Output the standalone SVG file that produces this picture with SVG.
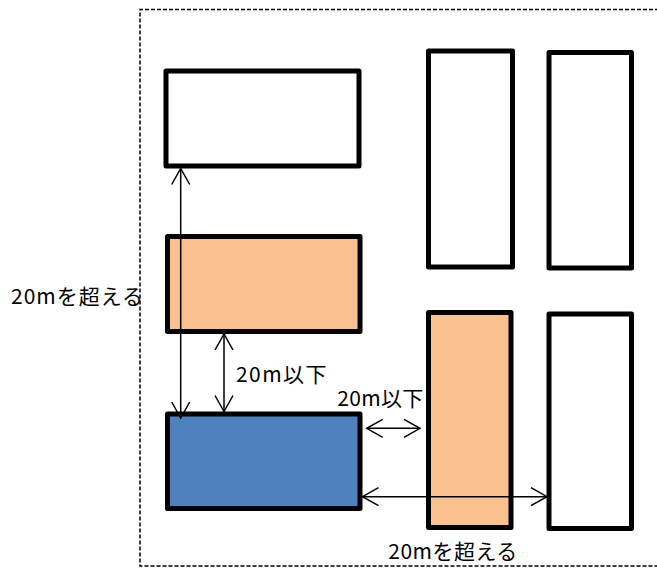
<svg xmlns="http://www.w3.org/2000/svg" width="657" height="568" viewBox="0 0 657 568">
<style>
.box{stroke:#000;stroke-width:5;stroke-linejoin:round}
.white{fill:#fff}
.orange{fill:#FAC090}
.blue{fill:#4F81BD}
.conn{stroke:#000;stroke-width:1.5;fill:none}
.lbl{font-family:"Noto Sans CJK JP","Noto Sans",sans-serif;font-size:21px;fill:#000}
.border{fill:none;stroke:#000;stroke-width:1.5;stroke-dasharray:4,2}
</style>
<defs>
<marker id="ah" markerUnits="userSpaceOnUse" markerWidth="24" markerHeight="24" refX="0" refY="0" viewBox="-20 -12 24 24" orient="auto-start-reverse" overflow="visible">
<path d="M-16,-9 L0,0 L-16,9" fill="none" stroke="#000" stroke-width="1.5"/>
</marker>
</defs>
<rect width="657" height="568" fill="#fff"/>
<path class="border" d="M665,9.5 H140 V566 H665"/>
<g id="node-top-left"><rect class="box white" x="166" y="71" width="193" height="95"/></g>
<g id="node-orange-left"><rect class="box orange" x="167.5" y="236.5" width="192.5" height="95"/></g>
<g id="node-blue"><rect class="box blue" x="167.5" y="414" width="192.5" height="94.5"/></g>
<g id="node-top-mid"><rect class="box white" x="428.5" y="51" width="84" height="216"/></g>
<g id="node-top-right"><rect class="box white" x="549" y="52.5" width="82.5" height="215.5"/></g>
<g id="node-orange-tall"><rect class="box orange" x="428.5" y="312.5" width="82.5" height="215"/></g>
<g id="node-bottom-right"><rect class="box white" x="549" y="314" width="82.5" height="214.5"/></g>
<g id="connectors">
<line class="conn" x1="180.7" y1="168.5" x2="180.7" y2="418" marker-start="url(#ah)" marker-end="url(#ah)"/>
<line class="conn" x1="224" y1="334" x2="224" y2="411.5" marker-start="url(#ah)" marker-end="url(#ah)"/>
<line class="conn" x1="366.7" y1="428.3" x2="420" y2="428.3" marker-start="url(#ah)" marker-end="url(#ah)"/>
<line class="conn" x1="362.5" y1="496.7" x2="547" y2="496.7" marker-start="url(#ah)" marker-end="url(#ah)"/>
</g>
<g id="labels">
<text class="lbl" x="11" y="304" textLength="132">20mを超える</text>
<text class="lbl" x="236" y="382.3" textLength="90.5">20m以下</text>
<text class="lbl" x="337.3" y="405.7" textLength="86">20m以下</text>
<text class="lbl" x="388.3" y="559.3" textLength="129">20mを超える</text>
</g>
</svg>
